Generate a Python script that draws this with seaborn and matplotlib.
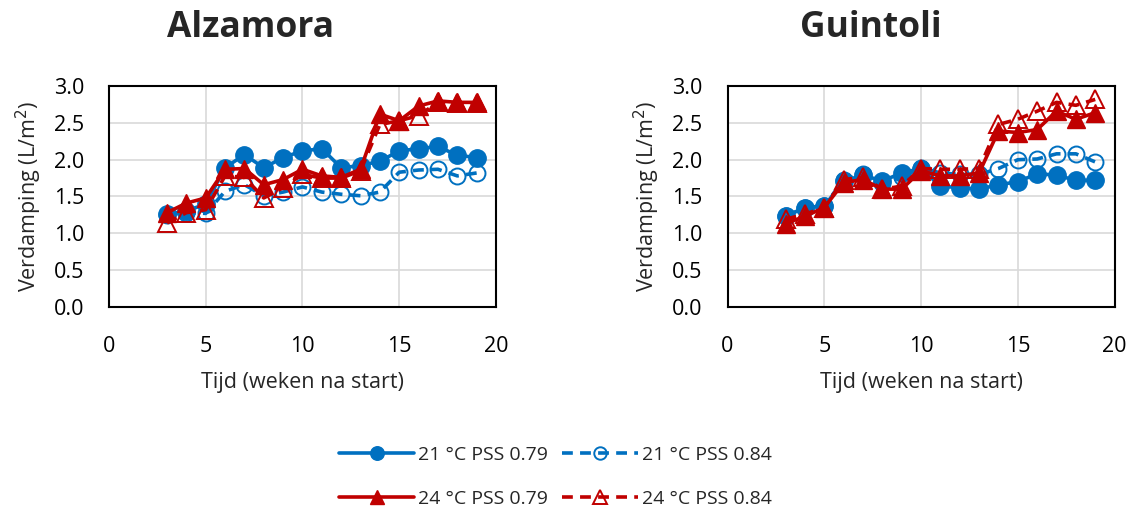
import numpy as np
import pandas as pd
import matplotlib
matplotlib.use("Agg")
import matplotlib.pyplot as plt
import seaborn as sns
from matplotlib.lines import Line2D

sns.set_theme(style="white")
plt.rcParams['font.family'] = ['Open Sans', 'DejaVu Sans']

weeks = list(range(3, 20))

alz_21_079 = [1.26, 1.30, 1.40, 1.89, 2.07, 1.89, 2.03, 2.12, 2.15, 1.89, 1.92, 1.98, 2.12, 2.15, 2.18, 2.06, 2.03]
alz_21_084 = [1.25, 1.28, 1.27, 1.57, 1.66, 1.51, 1.56, 1.63, 1.56, 1.53, 1.51, 1.56, 1.83, 1.86, 1.87, 1.78, 1.82]
alz_24_079 = [1.28, 1.41, 1.48, 1.87, 1.88, 1.66, 1.73, 1.87, 1.78, 1.76, 1.87, 2.62, 2.53, 2.73, 2.80, 2.78, 2.78]
alz_24_084 = [1.14, 1.28, 1.32, 1.78, 1.76, 1.48, 1.62, 1.80, 1.75, 1.75, 1.85, 2.48, 2.53, 2.60, 2.78, 2.77, 2.77]

gui_21_079 = [1.23, 1.35, 1.37, 1.71, 1.79, 1.71, 1.82, 1.88, 1.64, 1.62, 1.60, 1.66, 1.70, 1.81, 1.79, 1.72, 1.72]
gui_21_084 = [1.23, 1.35, 1.37, 1.73, 1.80, 1.69, 1.76, 1.89, 1.82, 1.80, 1.80, 1.88, 2.00, 2.01, 2.08, 2.08, 1.97]
gui_24_079 = [1.13, 1.23, 1.35, 1.69, 1.73, 1.60, 1.60, 1.85, 1.78, 1.78, 1.82, 2.39, 2.37, 2.41, 2.66, 2.55, 2.64]
gui_24_084 = [1.19, 1.26, 1.35, 1.73, 1.76, 1.60, 1.64, 1.88, 1.87, 1.87, 1.88, 2.48, 2.55, 2.66, 2.78, 2.74, 2.82]

series_labels = ["21 °C PSS 0.79", "21 °C PSS 0.84", "24 °C PSS 0.79", "24 °C PSS 0.84"]
titles = ["Alzamora", "Guintoli"]
x_ticks = [0, 5, 10, 15, 20]
y_ticks = [0.0, 0.5, 1.0, 1.5, 2.0, 2.5, 3.0]

BLUE = "#0070C0"
RED = "#C00000"
styles = [
    dict(color=BLUE, marker="o", linestyle="-", markersize=12.5, mfc=BLUE, mec=BLUE),
    dict(color=BLUE, marker="o", linestyle=(0, (3, 2)), markersize=11.5, mfc="none", mec=BLUE, mew=1.4),
    dict(color=RED, marker="^", linestyle="-", markersize=13, mfc=RED, mec=RED),
    dict(color=RED, marker="^", linestyle=(0, (3, 2)), markersize=12.5, mfc="none", mec=RED, mew=1.4),
]
draw_order = [0, 1, 3, 2]

data = {
    "Alzamora": [alz_21_079, alz_21_084, alz_24_079, alz_24_084],
    "Guintoli": [gui_21_079, gui_21_084, gui_24_079, gui_24_084],
}

fig = plt.figure(figsize=(11.35, 5.13), dpi=100)
ax_pos = [[0.096, 0.402, 0.341, 0.430], [0.641, 0.402, 0.341, 0.430]]
title_x = [0.221, 0.767]

for i, name in enumerate(titles):
    ax = fig.add_axes(ax_pos[i])
    for k in draw_order:
        vals, lab, st = data[name][k], series_labels[k], dict(styles[k])
        df = pd.DataFrame({"week": weeks, "val": vals})
        sns.lineplot(data=df, x="week", y="val", ax=ax, linewidth=2.6,
                     markeredgewidth=st.pop("mew", 1.0), label=lab, legend=False,
                     zorder=3, **st)
    ax.set_xlim(0, 20)
    ax.set_ylim(0, 3.0)
    ax.set_xticks(x_ticks)
    ax.set_yticks(y_ticks)
    ax.set_yticklabels([f"{v:.1f}" for v in y_ticks])
    ax.grid(True, color="#d9d9d9", linewidth=1.2)
    ax.set_axisbelow(True)
    for sp in ax.spines.values():
        sp.set_color("black")
        sp.set_linewidth(1.5)
    ax.tick_params(direction="in", length=7, width=1.5, labelsize=15.5, colors="black")
    ax.tick_params(axis="y", pad=18)
    ax.tick_params(axis="x", pad=21)
    ax.set_xlabel("Tijd (weken na start)", fontsize=15.5, labelpad=11)
    ax.set_ylabel("Verdamping (L/m$^2$)", fontsize=15.5, labelpad=7)
    fig.text(title_x[i], 0.945, name, fontsize=25.5, fontweight="bold", ha="center", va="center")

handles = []
for lab, st in zip(series_labels, styles):
    st = dict(st)
    mew = st.pop("mew", 1.0)
    ms = st.pop("markersize") * 0.78
    handles.append(Line2D([], [], linewidth=2.6, markersize=ms, markeredgewidth=mew, label=lab, **st))

order = [0, 2, 1, 3]
fig.legend(handles=[handles[i] for i in order], ncol=2, loc="center",
           bbox_to_anchor=(0.489, 0.07), frameon=False, fontsize=14,
           handlelength=3.9, columnspacing=0.7, labelspacing=1.35, handletextpad=0.2,
           labelcolor="#262626")

fig.savefig("out.png", dpi=100)
